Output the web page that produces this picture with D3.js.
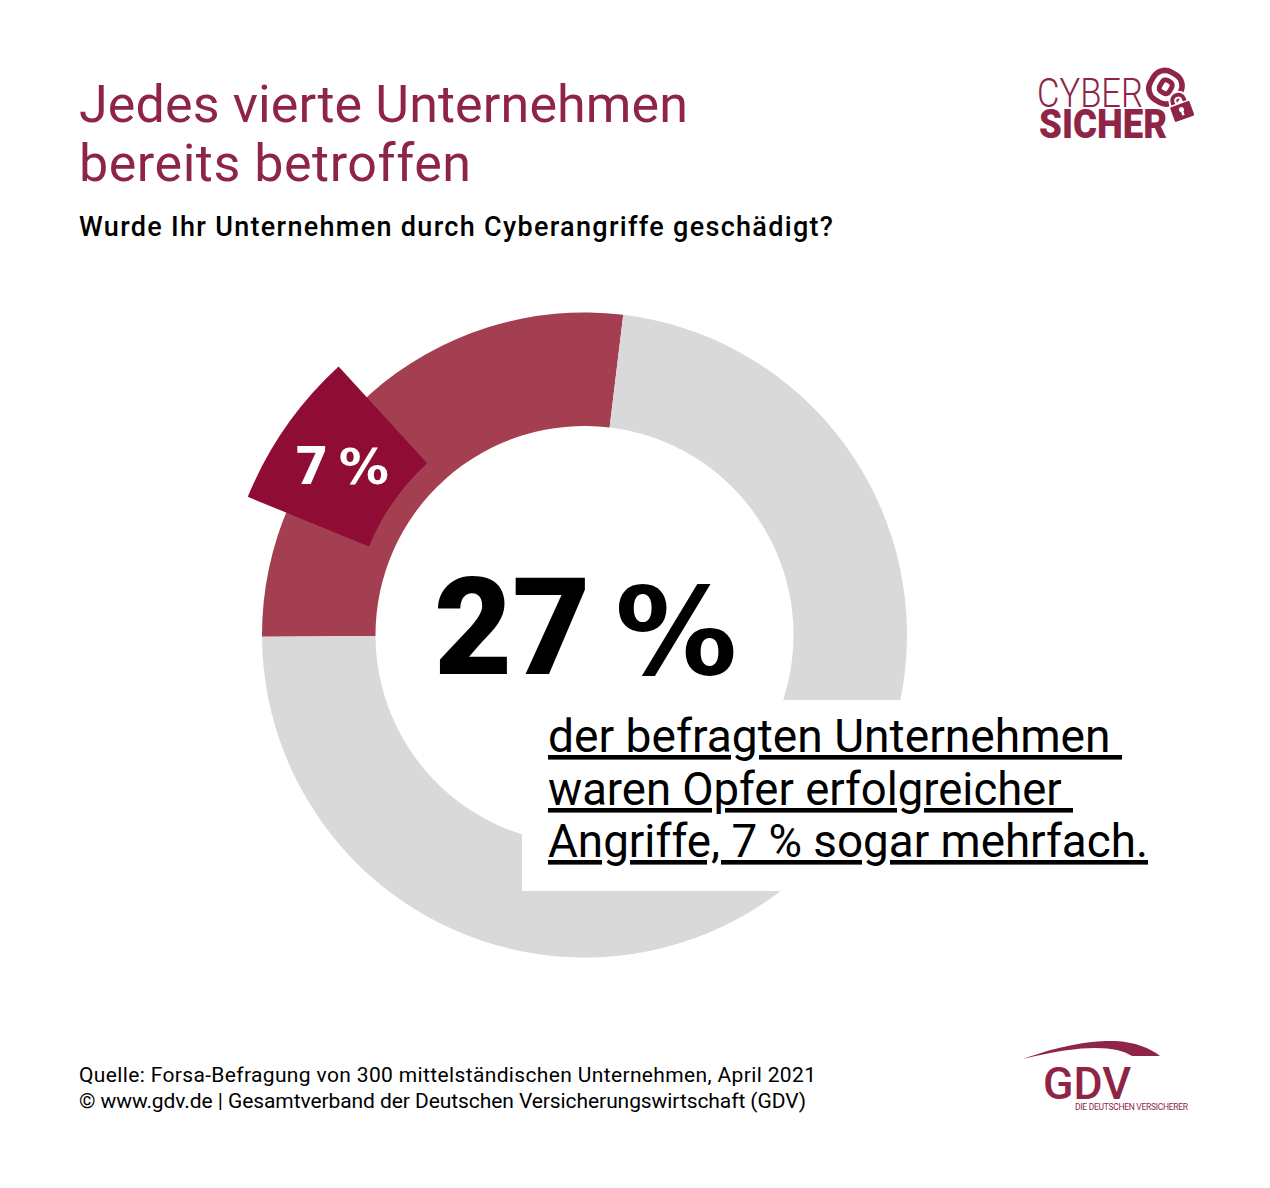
<!DOCTYPE html>
<html lang="de">
<head>
<meta charset="utf-8">
<title>Jedes vierte Unternehmen bereits betroffen</title>
<script src="https://cdn.jsdelivr.net/npm/d3@7"></script>
<style>
  html, body { margin: 0; padding: 0; background: #fff; }
  svg { display: block; }
  text { font-family: Roboto, "Noto Sans", sans-serif; white-space: pre; }
</style>
</head>
<body>
<div id="chart"></div>
<script>
const shareLabels = ['geschädigt', 'nicht geschädigt'];
const shareValues = [27, 73];
const repeatValue = 7;
const repeatOffset = 6.28; // where the 7 % wedge starts inside the 27 % slice

const titleLines = ['Jedes vierte Unternehmen', 'bereits betroffen'];
const question = 'Wurde Ihr Unternehmen durch Cyberangriffe geschädigt?';
const bodyLines = ['der befragten Unternehmen ', 'waren Opfer erfolgreicher ', 'Angriffe, 7 % sogar mehrfach.'];
const sourceLines = [
  'Quelle: Forsa-Befragung von 300 mittelständischen Unternehmen, April 2021',
  '© www.gdv.de | Gesamtverband der Deutschen Versicherungswirtschaft (GDV)'
];

const width = 1270, height = 1188;
const cx = 584.5, cy = 635;
const wine = '#8f2546';
const sliceColor = d3.scaleOrdinal(shareLabels, ['#a43f51', '#d9d9d9']);

const svg = d3.select('#chart').append('svg')
  .attr('width', width)
  .attr('height', height);

svg.append('rect').attr('width', width).attr('height', height).attr('fill', '#fff');

// share -> angle, 0 sits just under 9 o'clock where the red slice begins
const turn = -0.3 * Math.PI / 180;
const angle = d3.scaleLinear().domain([0, 100]).range([-Math.PI / 2 + turn, Math.PI * 1.5 + turn]);

const pie = d3.pie().sort(null).startAngle(angle(0)).endAngle(angle(100));
const ring = d3.arc().innerRadius(209).outerRadius(322.5);

const chart = svg.append('g').attr('transform', `translate(${cx},${cy})`);

chart.selectAll('path.slice')
  .data(pie(shareValues))
  .join('path')
  .attr('class', 'slice')
  .attr('d', ring)
  .attr('fill', (d, i) => sliceColor(shareLabels[i]));

chart.append('path')
  .attr('d', d3.arc()({
    innerRadius: 233,
    outerRadius: 364,
    startAngle: angle(repeatOffset),
    endAngle: angle(repeatOffset + repeatValue)
  }))
  .attr('fill', '#8f0c35');

// white panel behind the explanation
svg.append('rect')
  .attr('x', 522).attr('y', 700)
  .attr('width', 630).attr('height', 191)
  .attr('fill', '#fff');

function label(txt, x, y, size, opts = {}) {
  const t = svg.append('text')
    .attr('x', x).attr('y', y)
    .attr('font-size', size)
    .attr('font-weight', opts.weight || 400)
    .attr('fill', opts.fill || '#000')
    .text(txt);
  if (opts.fit) t.attr('textLength', opts.fit).attr('lengthAdjust', opts.adjust || 'spacing');
  return t;
}

// number plus a wider percent sign, as one text
function percentLabel(value, x, y, size, pctSize, gap, fill) {
  const t = svg.append('text')
    .attr('x', x).attr('y', y)
    .attr('font-weight', 900)
    .attr('fill', fill);
  t.append('tspan').attr('font-size', size).text(value);
  t.append('tspan').attr('dx', gap)
    .attr('font-size', pctSize)
    .style('font-family', '"DejaVu Sans"')
    .style('font-weight', 700)
    .text(' %');
  return t;
}

label(titleLines[0], 79, 122, 52, { fill: wine, fit: 609 });
label(titleLines[1], 79, 181, 52, { fill: wine, fit: 392 });
label(question, 79, 236, 27, { weight: 500, fit: 754 });

percentLabel('27', 434, 674, 135, 122, -18, '#000');
percentLabel('7', 296, 484, 54, 50, -6, '#fff');

const bodyY = [752, 805, 857];
const bodyW = [574, 525, 600];
bodyLines.forEach((line, i) => {
  label(line, 548, bodyY[i], 46, { fit: bodyW[i], adjust: 'spacingAndGlyphs' })
    .style('text-decoration', 'underline')
    .style('text-decoration-thickness', '2px')
    .style('text-underline-offset', '5px');
});

label(sourceLines[0], 79, 1082, 21, { fit: 737 });
label(sourceLines[1], 79, 1108, 21, { fit: 727 });

// CYBER SICHER logo
const logoText = svg.append('text').attr('fill', wine).attr('font-size', 41);
logoText.append('tspan')
  .attr('x', 1037).attr('y', 107)
  .attr('font-weight', 300)
  .attr('textLength', 106).attr('lengthAdjust', 'spacingAndGlyphs')
  .text('CYBER');
logoText.append('tspan')
  .attr('x', 1039).attr('y', 138)
  .attr('font-weight', 900)
  .attr('textLength', 128).attr('lengthAdjust', 'spacingAndGlyphs')
  .text('SICHER');

const logo = svg.append('g');
logo.append('g')
  .attr('transform', 'translate(1165,87) rotate(30)')
  .call(g => {
    g.append('rect').attr('x', -15).attr('y', -16).attr('width', 31).attr('height', 32).attr('rx', 13)
      .attr('fill', 'none').attr('stroke', wine).attr('stroke-width', 5.5);
    g.append('rect').attr('x', -5).attr('y', -7).attr('width', 11).attr('height', 13).attr('rx', 4)
      .attr('fill', 'none').attr('stroke', wine).attr('stroke-width', 5);
  });
logo.append('g')
  .attr('transform', 'translate(1182,111) rotate(-20)')
  .call(g => {
    g.append('path').attr('d', 'M-6,-8V-11A6,6 0 0 1 6,-11V-8')
      .attr('fill', 'none').attr('stroke', '#fff').attr('stroke-width', 8);
    g.append('path').attr('d', 'M-6,-8V-11A6,6 0 0 1 6,-11V-8')
      .attr('fill', 'none').attr('stroke', wine).attr('stroke-width', 4);
    g.append('rect').attr('x', -11).attr('y', -8).attr('width', 22).attr('height', 17).attr('rx', 2)
      .attr('fill', wine).attr('stroke', '#fff').attr('stroke-width', 1.5);
    g.append('circle').attr('cy', -1.5).attr('r', 2.5).attr('fill', '#fff');
    g.append('rect').attr('x', -1.2).attr('y', -1.5).attr('width', 2.4).attr('height', 6).attr('fill', '#fff');
  });

// GDV logo
svg.append('path')
  .attr('d', 'M1023,1059C1060,1045 1095,1040 1115,1041C1135,1042 1150,1048 1160,1056L1132,1056C1115,1046 1085,1044 1023,1059Z')
  .attr('fill', wine);
const gdvText = svg.append('text').attr('fill', wine);
gdvText.append('tspan')
  .attr('x', 1043).attr('y', 1099)
  .attr('font-size', 45).attr('font-weight', 500)
  .attr('textLength', 88).attr('lengthAdjust', 'spacingAndGlyphs')
  .text('GDV');
gdvText.append('tspan')
  .attr('x', 1075).attr('y', 1110)
  .attr('font-size', 8.5)
  .attr('textLength', 113).attr('lengthAdjust', 'spacing')
  .text('DIE DEUTSCHEN VERSICHERER');
</script>
</body>
</html>
